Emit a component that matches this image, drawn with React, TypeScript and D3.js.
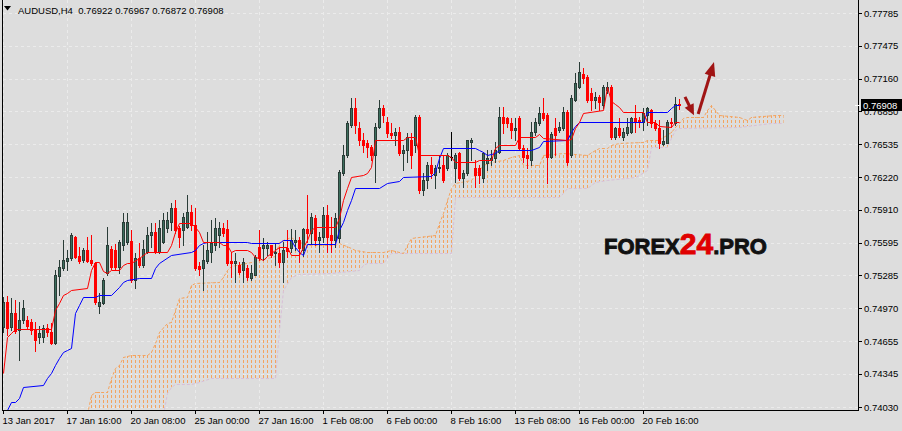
import React from 'react';
import * as d3 from 'd3';

// ---------- DATA ----------
const symbol = 'AUDUSD,H4';
const headerValues = ['0.76922', '0.76967', '0.76872', '0.76908'];
const lastPrice = 0.76908;

const opens = [
0.74792,0.75031,0.74792,0.74926,0.74764,0.74859,0.74859,0.74840,0.74764,0.74697,
0.74697,0.74783,0.74745,0.74640,0.75279,0.75355,0.75421,0.75450,0.75650,0.75469,
0.75431,0.75527,0.75431,0.75402,0.74993,0.75021,0.75307,0.75536,0.75527,0.75364,
0.75574,0.75603,0.75612,0.75241,0.75450,0.75383,0.75508,0.75669,0.75698,0.75508,
0.75603,0.75736,0.75794,0.75927,0.75736,0.75717,0.75746,0.75889,0.75765,0.75374,
0.75355,0.75421,0.75508,0.75574,0.75669,0.75736,0.75727,0.75421,0.75402,0.75383,
0.75336,0.75355,0.75260,0.75288,0.75555,0.75546,0.75546,0.75574,0.75498,0.75498,
0.75412,0.75546,0.75546,0.75603,0.75622,0.75527,0.75727,0.75688,0.75832,0.75622,
0.75650,0.75860,0.75669,0.75622,0.75641,0.76260,0.76432,0.76718,0.76880,0.76690,
0.76575,0.76546,0.76508,0.76432,0.76699,0.76880,0.76746,0.76642,0.76622,0.76651,
0.76451,0.76480,0.76575,0.76527,0.76794,0.76098,0.76194,0.76337,0.76241,0.76308,
0.76337,0.76308,0.76413,0.76308,0.76451,0.76213,0.76260,0.76556,0.76308,0.76308,
0.76213,0.76356,0.76384,0.76403,0.76460,0.76794,0.76784,0.76737,0.76670,0.76784,
0.76499,0.76432,0.76384,0.76651,0.76737,0.76832,0.76813,0.76413,0.76690,0.76670,
0.76690,0.76842,0.76432,0.76956,0.77080,0.77204,0.77175,0.77023,0.76956,0.76985,
0.76908,0.77051,0.77080,0.76603,0.76690,0.76603,0.76642,0.76651,0.76784,0.76765,
0.76746,0.76813,0.76861,0.76737,0.76690,0.76537,0.76546,0.76746,0.76737,0.76922];

const highs = [
0.75078,0.75088,0.75069,0.75050,0.75031,0.75050,0.74898,0.74869,0.74840,0.74802,
0.74811,0.74821,0.74830,0.75336,0.75431,0.75622,0.75527,0.75688,0.75660,0.75555,
0.75546,0.75650,0.75669,0.75412,0.75117,0.75260,0.75746,0.75565,0.75584,0.75622,
0.75879,0.75879,0.75717,0.75498,0.75593,0.75622,0.75746,0.75784,0.75784,0.75813,
0.75879,0.75889,0.75974,0.76003,0.75755,0.75879,0.76051,0.75955,0.75927,0.75412,
0.75574,0.75698,0.75813,0.75832,0.75794,0.75784,0.75813,0.75508,0.75498,0.75412,
0.75450,0.75383,0.75383,0.75479,0.75717,0.75641,0.75603,0.75574,0.75593,0.75555,
0.75603,0.75717,0.75727,0.75717,0.75650,0.75736,0.76051,0.75879,0.75860,0.75698,
0.75936,0.75955,0.75841,0.75879,0.76289,0.76527,0.76756,0.76975,0.76975,0.76746,
0.76642,0.76575,0.76527,0.76737,0.76956,0.76908,0.76794,0.76737,0.76690,0.76699,
0.76527,0.76642,0.76642,0.76813,0.76813,0.76260,0.76365,0.76413,0.76337,0.76432,
0.76432,0.76451,0.76651,0.76451,0.76460,0.76289,0.76575,0.76594,0.76384,0.76337,
0.76460,0.76480,0.76480,0.76556,0.76889,0.76889,0.76794,0.76784,0.76784,0.76803,
0.76527,0.76499,0.76746,0.76784,0.76889,0.76975,0.76832,0.76651,0.76784,0.76746,
0.76889,0.76861,0.77004,0.77213,0.77318,0.77261,0.77194,0.77070,0.77032,0.77004,
0.77099,0.77128,0.77099,0.76699,0.76784,0.76690,0.76784,0.76794,0.76908,0.76794,
0.76880,0.76889,0.76870,0.76765,0.76765,0.76670,0.76765,0.76784,0.76985,0.76967];

const lows = [
0.74745,0.74716,0.74764,0.74735,0.74478,0.74830,0.74773,0.74726,0.74564,0.74640,
0.74650,0.74707,0.74631,0.74631,0.75098,0.75336,0.75336,0.75431,0.75450,0.75402,
0.75412,0.75412,0.75383,0.75012,0.74926,0.75012,0.75288,0.75345,0.75336,0.75307,
0.75527,0.75584,0.75222,0.75164,0.75364,0.75364,0.75498,0.75555,0.75498,0.75498,
0.75593,0.75698,0.75717,0.75688,0.75555,0.75574,0.75736,0.75717,0.75336,0.75288,
0.75145,0.75402,0.75412,0.75527,0.75555,0.75660,0.75383,0.75269,0.75222,0.75298,
0.75222,0.75241,0.75241,0.75288,0.75431,0.75431,0.75479,0.75460,0.75383,0.75364,
0.75222,0.75460,0.75508,0.75527,0.75412,0.75469,0.75603,0.75593,0.75574,0.75508,
0.75603,0.75508,0.75508,0.75555,0.75603,0.76241,0.76413,0.76699,0.76642,0.76527,
0.76460,0.76413,0.76384,0.76175,0.76690,0.76746,0.76603,0.76594,0.76527,0.76432,
0.76289,0.76365,0.76308,0.76460,0.76070,0.76051,0.76117,0.76213,0.76117,0.76270,
0.76175,0.76289,0.76384,0.76175,0.76194,0.76127,0.76241,0.76384,0.76127,0.76165,
0.76175,0.76289,0.76337,0.76365,0.76451,0.76642,0.76699,0.76594,0.76575,0.76480,
0.76365,0.76308,0.76337,0.76622,0.76718,0.76765,0.76165,0.76403,0.76432,0.76651,
0.76670,0.76337,0.76413,0.76946,0.77070,0.77118,0.76937,0.76861,0.76880,0.76861,
0.76880,0.77023,0.76584,0.76584,0.76603,0.76575,0.76622,0.76642,0.76651,0.76699,
0.76670,0.76718,0.76699,0.76670,0.76499,0.76527,0.76546,0.76699,0.76718,0.76872];

const closes = [
0.75031,0.74783,0.74926,0.74754,0.74859,0.74974,0.74802,0.74764,0.74669,0.74735,
0.74783,0.74745,0.74640,0.75288,0.75364,0.75431,0.75450,0.75669,0.75460,0.75421,
0.75527,0.75421,0.75402,0.75031,0.75031,0.75241,0.75574,0.75364,0.75364,0.75603,
0.75794,0.75794,0.75241,0.75450,0.75383,0.75536,0.75669,0.75698,0.75508,0.75736,
0.75813,0.75813,0.75927,0.75717,0.75650,0.75841,0.75889,0.75765,0.75355,0.75345,
0.75431,0.75527,0.75593,0.75736,0.75736,0.75688,0.75402,0.75402,0.75421,0.75317,
0.75412,0.75269,0.75307,0.75460,0.75450,0.75574,0.75574,0.75479,0.75508,0.75412,
0.75527,0.75517,0.75622,0.75622,0.75546,0.75727,0.75688,0.75841,0.75622,0.75650,
0.75860,0.75650,0.75622,0.75832,0.76270,0.76432,0.76737,0.76880,0.76718,0.76575,
0.76527,0.76508,0.76432,0.76699,0.76880,0.76813,0.76642,0.76622,0.76651,0.76451,
0.76480,0.76603,0.76432,0.76794,0.76098,0.76194,0.76337,0.76260,0.76308,0.76318,
0.76194,0.76432,0.76413,0.76432,0.76213,0.76260,0.76575,0.76575,0.76241,0.76241,
0.76451,0.76403,0.76403,0.76480,0.76794,0.76737,0.76737,0.76670,0.76690,0.76499,
0.76413,0.76403,0.76651,0.76746,0.76832,0.76784,0.76413,0.76632,0.76622,0.76699,
0.76842,0.76365,0.76975,0.77118,0.77223,0.77166,0.76956,0.76956,0.76985,0.76937,
0.77080,0.77080,0.76603,0.76690,0.76622,0.76651,0.76699,0.76784,0.76746,0.76756,
0.76832,0.76880,0.76737,0.76690,0.76546,0.76565,0.76746,0.76737,0.76922,0.76908];

// Ichimoku lines: [bar index, price]
const tenkan: [number, number][] = [
[0,0.74354],[1,0.74697],[2,0.74735],[3,0.74773],[12,0.74773],[13,0.74955],[14,0.75021],
[15,0.75098],[16,0.75117],[17,0.75145],[21,0.75164],[22,0.75336],[23,0.75412],[24,0.75412],
[25,0.75326],[26,0.75307],[27,0.75336],[29,0.75336],[30,0.75383],[31,0.75402],[32,0.75402],
[34,0.75450],[36,0.75508],[41,0.75508],[42,0.75574],[43,0.75698],[44,0.75784],[47,0.75784],
[48,0.75746],[49,0.75698],[50,0.75603],[54,0.75603],[55,0.75574],[56,0.75574],[57,0.75508],
[58,0.75527],[61,0.75527],[62,0.75508],[63,0.75460],[64,0.75450],[65,0.75431],[66,0.75469],
[67,0.75498],[69,0.75555],[71,0.75555],[72,0.75479],[74,0.75479],[75,0.75555],[76,0.75622],
[77,0.75717],[78,0.75746],[83,0.75746],[84,0.75832],[85,0.76003],[86,0.76117],[87,0.76222],
[90,0.76241],[91,0.76260],[92,0.76318],[93,0.76575],[100,0.76575],[101,0.76603],[103,0.76603],
[104,0.76432],[111,0.76432],[112,0.76413],[113,0.76365],[118,0.76365],[119,0.76384],
[122,0.76384],[123,0.76499],[124,0.76527],[128,0.76527],[129,0.76603],[133,0.76603],
[134,0.76632],[135,0.76594],[141,0.76575],[142,0.76584],[143,0.76690],[144,0.76746],
[145,0.76832],[150,0.76861],[151,0.77080],[152,0.76946],[153,0.76918],[154,0.76889],
[155,0.76842],[160,0.76842],[161,0.76746],[163,0.76746],[164,0.76708],[167,0.76699],
[168,0.76746],[169,0.76746]];

const kijun: [number, number][] = [
[0,0.73964],[1,0.74002],[2,0.74078],[3,0.74078],[4,0.74116],[5,0.74221],[10,0.74240],
[11,0.74307],[12,0.74354],[13,0.74430],[14,0.74497],[15,0.74555],[16,0.74574],[17,0.74593],
[18,0.74926],[19,0.75002],[20,0.75078],[23,0.75078],[24,0.75098],[27,0.75098],[29,0.75174],
[30,0.75222],[31,0.75241],[34,0.75260],[37,0.75260],[38,0.75355],[39,0.75402],[42,0.75479],
[47,0.75508],[48,0.75527],[49,0.75574],[50,0.75593],[51,0.75603],[61,0.75603],[62,0.75593],
[69,0.75593],[70,0.75622],[72,0.75622],[73,0.75555],[74,0.75508],[75,0.75479],[76,0.75584],
[83,0.75584],[84,0.75717],[85,0.75794],[86,0.75908],[87,0.76003],[88,0.76117],[94,0.76117],
[96,0.76165],[99,0.76184],[100,0.76222],[107,0.76232],[108,0.76270],[109,0.76403],
[110,0.76499],[118,0.76499],[119,0.76480],[120,0.76460],[121,0.76432],[123,0.76451],
[124,0.76480],[132,0.76480],[134,0.76508],[135,0.76565],[141,0.76575],[142,0.76651],
[143,0.76708],[144,0.76746],[160,0.76746],[161,0.76842],[166,0.76842],[167,0.76880],
[168,0.76908],[169,0.76908]];

const senkouA: [number, number][] = [
[21,0.73964],[22,0.74145],[23,0.74173],[26,0.74173],[27,0.74307],[28,0.74402],[29,0.74430],
[30,0.74507],[32,0.74526],[36,0.74526],[37,0.74555],[38,0.74640],[39,0.74745],[41,0.74830],
[42,0.74840],[43,0.74955],[44,0.75069],[46,0.75078],[47,0.75193],[48,0.75212],[54,0.75222],
[55,0.75269],[56,0.75336],[57,0.75374],[62,0.75412],[68,0.75469],[69,0.75603],[70,0.75622],
[72,0.75650],[73,0.75622],[76,0.75574],[83,0.75574],[84,0.75593],[87,0.75546],[88,0.75527],
[91,0.75508],[95,0.75508],[97,0.75527],[100,0.75498],[101,0.75574],[102,0.75641],
[104,0.75650],[108,0.75669],[109,0.75784],[110,0.75879],[111,0.76003],[112,0.76117],
[113,0.76165],[117,0.76194],[118,0.76241],[120,0.76337],[122,0.76365],[125,0.76384],
[127,0.76413],[129,0.76432],[130,0.76337],[134,0.76337],[135,0.76432],[140,0.76451],
[146,0.76432],[148,0.76480],[149,0.76499],[151,0.76499],[152,0.76527],[154,0.76546],
[160,0.76556],[161,0.76575],[164,0.76575],[165,0.76603],[167,0.76651],[168,0.76699],
[169,0.76737],[170,0.76784],[171,0.76794],[175,0.76794],[176,0.76861],[177,0.76908],
[178,0.76861],[179,0.76813],[184,0.76794],[186,0.76765],[187,0.76794],[193,0.76813],
[195,0.76813]];

const senkouB: [number, number][] = [
[21,0.73900],[39,0.73900],[40,0.73964],[41,0.74164],[42,0.74221],[43,0.74250],[47,0.74250],
[49,0.74269],[52,0.74307],[68,0.74307],[69,0.74764],[70,0.75145],[72,0.75269],[74,0.75298],
[82,0.75307],[89,0.75336],[90,0.75383],[91,0.75402],[95,0.75402],[97,0.75498],[112,0.75498],
[113,0.76032],[139,0.76032],[140,0.76070],[141,0.76117],[146,0.76117],[147,0.76146],
[148,0.76175],[151,0.76194],[158,0.76222],[159,0.76241],[161,0.76289],[162,0.76508],
[166,0.76508],[167,0.76594],[168,0.76670],[169,0.76690],[184,0.76699],[186,0.76708],
[192,0.76737],[195,0.76737]];

const priceTicks = [0.77785,0.77475,0.77160,0.76850,0.76535,0.76220,0.75910,0.75595,0.75285,0.74970,0.74655,0.74345,0.74030];
const priceLabels = ['0.77785','0.77475','0.77160','0.76850','0.76535','0.76220','0.75910','0.75595','0.75285','0.74970','0.74655','0.74345','0.74030'];
const timeTickBars = [0,16,32,48,64,80,96,112,128,144,160];
const timeLabels = ['13 Jan 2017','17 Jan 16:00','20 Jan 08:00','25 Jan 00:00','27 Jan 16:00','1 Feb 08:00','6 Feb 00:00','8 Feb 16:00','13 Feb 08:00','16 Feb 00:00','20 Feb 16:00'];

// hand-drawn arrow annotations: [bar, price] from -> to
const arrowNotes = [
  { from: [170.5, 0.76985], to: [172.75, 0.76810], head: 11, width: 10 },
  { from: [173.8, 0.76822], to: [177.75, 0.77318], head: 14, width: 11 },
];

// ---------- STYLE ----------
const BG = '#DDDDDD';
const GRID = '#EBEBEB';
const BULL_FILL = '#3B6E5C';
const BULL_LINE = '#2A3C37';
const BEAR = '#FF0000';
const FONT = "'Liberation Sans', Arial, sans-serif";

export default function App() {
  const W = 902, H = 431;
  const plotL = 2, plotR = 858, plotB = 410;
  const x = d3.scaleLinear().domain([0, 169]).range([3, 679]);
  const y = d3.scaleLinear().domain([0.74030, 0.77785]).range([407, 13]);
  const py = (p: number) => Math.round(y(p));

  const line = d3.line<[number, number]>()
    .x(d => x(d[0]) + 0.5)
    .y(d => Math.round(y(d[1])) + 0.5);

  const cloudPts: [number, number][] = [
    ...senkouA.map(([i, p]) => [x(i) + 0.5, y(p)] as [number, number]),
    ...[...senkouB].reverse().map(([i, p]) => [x(i) + 0.5, y(p)] as [number, number]),
  ];
  const cloudPath = (d3.line()(cloudPts) || '') + 'Z';

  const candles = opens.map((o, i) => {
    const c = closes[i], h = highs[i], l = lows[i];
    const cx = Math.round(x(i));
    const yH = py(h), yL = py(l), yO = py(o), yC = py(c);
    const top = Math.min(yO, yC), bot = Math.max(yO, yC);
    const doji = o === c;
    const bull = c > o;
    const wickColor = doji ? '#000' : bull ? BULL_LINE : BEAR;
    return (
      <g key={i}>
        <rect x={cx} y={yH} width={1} height={yL - yH + 1} fill={wickColor} />
        {doji ? (
          <rect x={cx - 1} y={top} width={3} height={1} fill="#000" />
        ) : bull ? (
          <>
            <rect x={cx - 1} y={top} width={3} height={bot - top + 1} fill={BULL_LINE} />
            {bot - top >= 2 && <rect x={cx} y={top + 1} width={1} height={bot - top - 1} fill={BULL_FILL} />}
          </>
        ) : (
          <rect x={cx - 1} y={top} width={3} height={bot - top + 1} fill={BEAR} />
        )}
      </g>
    );
  });

  const arrowEls = arrowNotes.map((a, k) => {
    const x1 = x(a.from[0]), y1 = y(a.from[1]);
    const x2 = x(a.to[0]), y2 = y(a.to[1]);
    const dx = x2 - x1, dy = y2 - y1, len = Math.hypot(dx, dy);
    const ux = dx / len, uy = dy / len;
    const bx = x2 - ux * a.head, by = y2 - uy * a.head;
    const nx = -uy, ny = ux;
    const pts = `${x2},${y2} ${bx + nx * a.width / 2},${by + ny * a.width / 2} ${bx - nx * a.width / 2},${by - ny * a.width / 2}`;
    return (
      <g key={k}>
        <line x1={x1} y1={y1} x2={bx + ux * 2} y2={by + uy * 2} stroke="#A01414" strokeWidth={3} />
        <polygon points={pts} fill="#A01414" />
      </g>
    );
  });

  const lastY = py(lastPrice);

  return (
    <svg width={W} height={H} style={{ position: 'fixed', left: 0, top: 0, display: 'block' }} fontFamily={FONT}>
      <defs>
        <clipPath id="plot"><rect x={plotL + 1} y={0} width={plotR - plotL - 1} height={plotB} /></clipPath>
        <clipPath id="underBox"><rect x={860} y={lastY + 6} width={42} height={20} /></clipPath>
        <pattern id="hatch" patternUnits="userSpaceOnUse" x={3} y={0} width={4} height={5}>
          <rect x={0} y={0} width={1} height={3} fill="#F4A460" />
        </pattern>
      </defs>
      <rect x={0} y={0} width={W} height={H} fill={BG} />

      {/* grid */}
      <g stroke={GRID} strokeDasharray="3,3" shapeRendering="crispEdges">
        {priceTicks.map((p, k) => (
          <line key={'gy' + k} x1={plotL + 1} x2={plotR} y1={py(p) + 0.5} y2={py(p) + 0.5} />
        ))}
        {timeTickBars.map((b, k) => (
          <line key={'gx' + k} x1={x(b) + 0.5} x2={x(b) + 0.5} y1={0} y2={plotB} />
        ))}
      </g>

      <g clipPath="url(#plot)">
        {/* cloud */}
        <path d={cloudPath} fill="url(#hatch)" />
        <path d={line(senkouB) || ''} fill="none" stroke="#D8BFD8" strokeDasharray="3,2" />
        <path d={line(senkouA) || ''} fill="none" stroke="#F4A460" strokeDasharray="3,2" />
        {/* candles */}
        <g shapeRendering="crispEdges">{candles}</g>
        {/* tenkan / kijun */}
        <path d={line(kijun) || ''} fill="none" stroke="#0000FF" strokeWidth={1} />
        <path d={line(tenkan) || ''} fill="none" stroke="#FF0000" strokeWidth={1} />
      </g>

      {/* frame */}
      <g stroke="#000" shapeRendering="crispEdges">
        <line x1={plotL + 0.5} x2={plotL + 0.5} y1={0} y2={plotB + 1} />
        <line x1={plotR + 0.5} x2={plotR + 0.5} y1={0} y2={plotB + 1} />
        <line x1={plotL} x2={plotR + 1} y1={plotB + 0.5} y2={plotB + 0.5} />
        {priceTicks.map((p, k) => (
          <line key={'ty' + k} x1={plotR} x2={plotR + 4} y1={py(p) + 0.5} y2={py(p) + 0.5} />
        ))}
        {timeTickBars.map((b, k) => (
          <line key={'tx' + k} x1={x(b) + 0.5} x2={x(b) + 0.5} y1={plotB} y2={plotB + 4} />
        ))}
      </g>

      {/* price labels (the one hidden by the current-price box shows only its lower edge) */}
      <g fontSize={9.5} fill="#000">
        {priceTicks.map((p, k) => {
          const hidden = Math.abs(py(p) - lastY) < 10;
          return (
            <text key={'py' + k} x={864} y={y(p) + 3.5} clipPath={hidden ? 'url(#underBox)' : undefined}>{priceLabels[k]}</text>
          );
        })}
      </g>
      {/* time labels */}
      <g fontSize={9.5} fill="#000">
        {timeTickBars.map((b, k) => (
          <text key={'tl' + k} x={x(b) - 0.5} y={424}>{timeLabels[k]}</text>
        ))}
      </g>

      {/* current price marker */}
      <line x1={plotR - 3} x2={plotR + 2} y1={lastY + 0.5} y2={lastY + 0.5} stroke="#FFF" />
      <rect x={861} y={lastY - 6} width={41} height={12} fill="#000" />
      <text x={863} y={y(lastPrice) + 3.5} fontSize={9.5} fill="#FFF">{lastPrice.toFixed(5)}</text>

      {/* header */}
      <path d="M4,6 L11,6 L7.5,10.5 Z" fill="#000" />
      <text x={18} y={14} fontSize={9.5} fill="#000" xmlSpace="preserve">
        {symbol + '  ' + headerValues.join(' ')}
      </text>

      {/* watermark */}
      <text x={604} y={254} fontWeight="bold" fontSize={22} fill="#111" stroke="#111" strokeWidth={0.9}>
        <tspan>FOREX</tspan>
        <tspan fill="#E00000" stroke="#E00000" fontSize={30}>24</tspan>
        <tspan>.PRO</tspan>
      </text>

      {arrowEls}
    </svg>
  );
}
